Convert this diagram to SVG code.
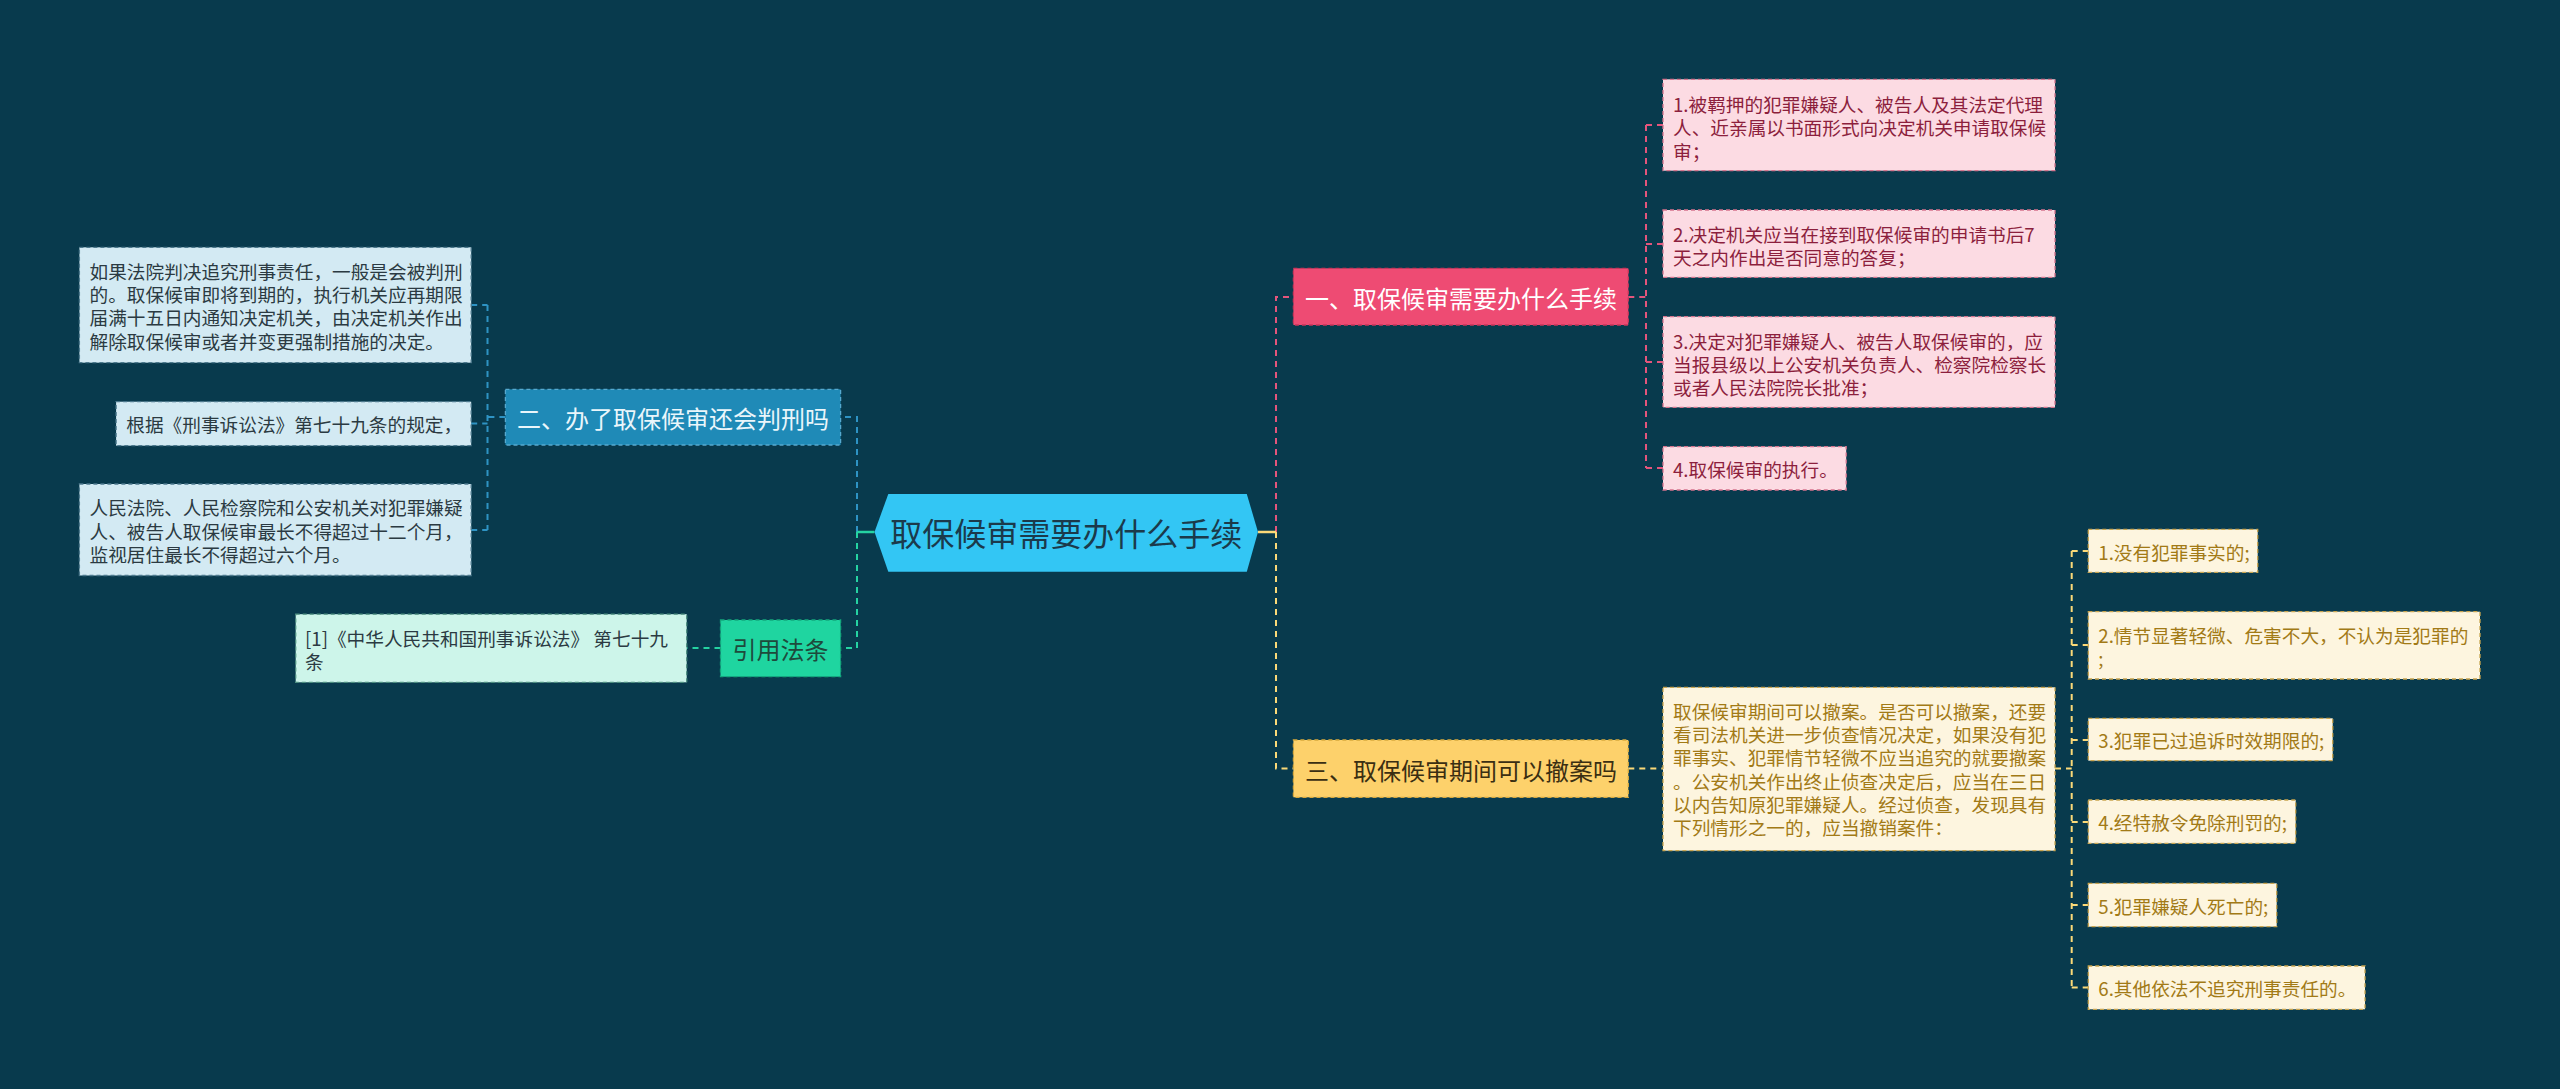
<svg xmlns="http://www.w3.org/2000/svg" width="2560" height="1089" viewBox="0 0 2560 1089">
<style>
text{font-family:"Noto Sans CJK SC","Noto Sans",sans-serif;dominant-baseline:central}
.s{font-size:18.67px}
.m{font-size:24px}
.c{font-size:32px}
.mid{text-anchor:middle}
.dash{fill:none;stroke-width:2;stroke-dasharray:6 5}
.bb{fill:#d3eaf3;stroke:#4d7a8e;stroke-width:1.3;stroke-dasharray:4 3}
.bt{fill:#2b3a42}
.gb{fill:#cdf5ea;stroke:#4d8f80;stroke-width:1.3;stroke-dasharray:4 3}
.pb{fill:#fcdbe3;stroke:#d5738d;stroke-width:1.3;stroke-dasharray:4 3}
.pt{fill:#8c1f3d}
.yb{fill:#fdf5df;stroke:#c9a54f;stroke-width:1.3;stroke-dasharray:4 3}
.yt{fill:#a27a16}
</style>
<rect width="2560" height="1089" fill="#083a4d"/>
<g id="connectors">
<path class="dash" stroke="#2e93c4" d="M857 532V417H840.6M505.4 417H487.5M487.5 305V530M471.2 305H487.5M471.2 423.5H487.5M471.2 530H487.5"/>
<path class="dash" stroke="#25d3a2" d="M857 532V648H840.6M720.5 648H686.5"/>
<path d="M874.5 532H857" stroke="#25d3a2" stroke-width="2.5" fill="none"/>
<path class="dash" stroke="#e3557c" d="M1276 532V297H1293.4M1628.3 297H1646M1646 125V468M1646 125H1663M1646 244H1663M1646 362H1663M1646 468H1663"/>
<path class="dash" stroke="#fbd978" d="M1276 532V768.5H1293.4M1628.3 768.5H1663M2055 768.5H2071.7M2071.7 551V987.5M2071.7 551H2088M2071.7 645H2088M2071.7 740H2088M2071.7 822H2088M2071.7 905H2088M2071.7 987.5H2088"/>
<path d="M1258 532H1276" stroke="#fbd978" stroke-width="2.5" fill="none"/>
</g>
<g id="root">
<polygon points="874.5,532 888.3,494 1246.8,494 1258,532 1246.8,571.7 888.3,571.7" fill="#33c6f4"/>
<text class="c mid" x="1066.3" y="532" fill="#1b3a4b">取保候审需要办什么手续</text>
</g>
<g id="b2">
<rect x="505.4" y="389.3" width="335.2" height="55.7" fill="#1f8ab7" stroke="#56a9cf" stroke-width="1.3" stroke-dasharray="4 3"/>
<text class="m mid" x="673" y="417.5" fill="#eaf6fb">二、办了取保候审还会判刑吗</text>
</g>
<g id="b2a">
<rect class="bb" x="79.4" y="247.3" width="391.8" height="115.4"/>
<text class="s bt" x="89.5" y="270">如果法院判决追究刑事责任，一般是会被判刑</text>
<text class="s bt" x="89.5" y="293.3">的。取保候审即将到期的，执行机关应再期限</text>
<text class="s bt" x="89.5" y="316.7">届满十五日内通知决定机关，由决定机关作出</text>
<text class="s bt" x="89.5" y="340">解除取保候审或者并变更强制措施的决定。</text>
</g>
<g id="b2b">
<rect class="bb" x="116.1" y="401.7" width="355.1" height="44"/>
<text class="s bt" x="126.3" y="423.5">根据《刑事诉讼法》第七十九条的规定，</text>
</g>
<g id="b2c">
<rect class="bb" x="79.4" y="484" width="391.8" height="91.5"/>
<text class="s bt" x="89.5" y="506.7">人民法院、人民检察院和公安机关对犯罪嫌疑</text>
<text class="s bt" x="89.5" y="530">人、被告人取保候审最长不得超过十二个月，</text>
<text class="s bt" x="89.5" y="553.3">监视居住最长不得超过六个月。</text>
</g>
<g id="ref">
<rect x="720.5" y="620" width="120.1" height="56.7" fill="#1fd5a0" stroke="#13a87c" stroke-width="1.3" stroke-dasharray="4 3"/>
<text class="m mid" x="780.5" y="648.3" fill="#1e4a3c">引用法条</text>
</g>
<g id="refa">
<rect class="gb" x="295.7" y="614.2" width="391" height="68.1"/>
<text class="s bt" x="305" y="637">[1]《中华人民共和国刑事诉讼法》 第七十九</text>
<text class="s bt" x="305" y="660.3">条</text>
</g>
<g id="b1">
<rect x="1293.4" y="268.3" width="334.9" height="56.7" fill="#ee4b73" stroke="#c9345a" stroke-width="1.3" stroke-dasharray="4 3"/>
<text class="m mid" x="1460.9" y="297" fill="#ffffff">一、取保候审需要办什么手续</text>
</g>
<g id="b1a">
<rect class="pb" x="1663" y="79.3" width="392" height="91.4"/>
<text class="s pt" x="1673" y="103.3">1.被羁押的犯罪嫌疑人、被告人及其法定代理</text>
<text class="s pt" x="1673" y="126.7">人、近亲属以书面形式向决定机关申请取保候</text>
<text class="s pt" x="1673" y="150">审；</text>
</g>
<g id="b1b">
<rect class="pb" x="1663" y="210" width="392" height="67.3"/>
<text class="s pt" x="1673" y="233.3">2.决定机关应当在接到取保候审的申请书后7</text>
<text class="s pt" x="1673" y="256.7">天之内作出是否同意的答复；</text>
</g>
<g id="b1c">
<rect class="pb" x="1663" y="316.7" width="392" height="90.6"/>
<text class="s pt" x="1673" y="340">3.决定对犯罪嫌疑人、被告人取保候审的，应</text>
<text class="s pt" x="1673" y="363.3">当报县级以上公安机关负责人、检察院检察长</text>
<text class="s pt" x="1673" y="386.7">或者人民法院院长批准；</text>
</g>
<g id="b1d">
<rect class="pb" x="1663" y="446.7" width="183.2" height="43.3"/>
<text class="s pt" x="1673" y="468.5">4.取保候审的执行。</text>
</g>
<g id="b3">
<rect x="1293.4" y="740" width="334.9" height="57.3" fill="#fdd16b" stroke="#d8a93c" stroke-width="1.3" stroke-dasharray="4 3"/>
<text class="m mid" x="1460.9" y="769" fill="#3a2e12">三、取保候审期间可以撤案吗</text>
</g>
<g id="b3a">
<rect class="yb" x="1663" y="687.3" width="392" height="163.4"/>
<text class="s yt" x="1673" y="710">取保候审期间可以撤案。是否可以撤案，还要</text>
<text class="s yt" x="1673" y="733.3">看司法机关进一步侦查情况决定，如果没有犯</text>
<text class="s yt" x="1673" y="756.7">罪事实、犯罪情节轻微不应当追究的就要撤案</text>
<text class="s yt" x="1673" y="780">。公安机关作出终止侦查决定后，应当在三日</text>
<text class="s yt" x="1673" y="803.3">以内告知原犯罪嫌疑人。经过侦查，发现具有</text>
<text class="s yt" x="1673" y="826.7">下列情形之一的，应当撤销案件：</text>
</g>
<g id="c1">
<rect class="yb" x="2088.3" y="529.3" width="169.4" height="43"/>
<text class="s yt" x="2098.3" y="551">1.没有犯罪事实的;</text>
</g>
<g id="c2">
<rect class="yb" x="2088.3" y="611.7" width="391.7" height="67.3"/>
<text class="s yt" x="2098.3" y="634.5">2.情节显著轻微、危害不大，不认为是犯罪的</text>
<text class="s yt" x="2098.3" y="657.8">;</text>
</g>
<g id="c3">
<rect class="yb" x="2088.3" y="718.3" width="244.4" height="42.4"/>
<text class="s yt" x="2098.3" y="739.5">3.犯罪已过追诉时效期限的;</text>
</g>
<g id="c4">
<rect class="yb" x="2088.3" y="800" width="207.4" height="43.3"/>
<text class="s yt" x="2098.3" y="821.7">4.经特赦令免除刑罚的;</text>
</g>
<g id="c5">
<rect class="yb" x="2088.3" y="883.3" width="188.4" height="43.4"/>
<text class="s yt" x="2098.3" y="905">5.犯罪嫌疑人死亡的;</text>
</g>
<g id="c6">
<rect class="yb" x="2088.3" y="966" width="276.7" height="43.3"/>
<text class="s yt" x="2098.3" y="987.5">6.其他依法不追究刑事责任的。</text>
</g>
</svg>
